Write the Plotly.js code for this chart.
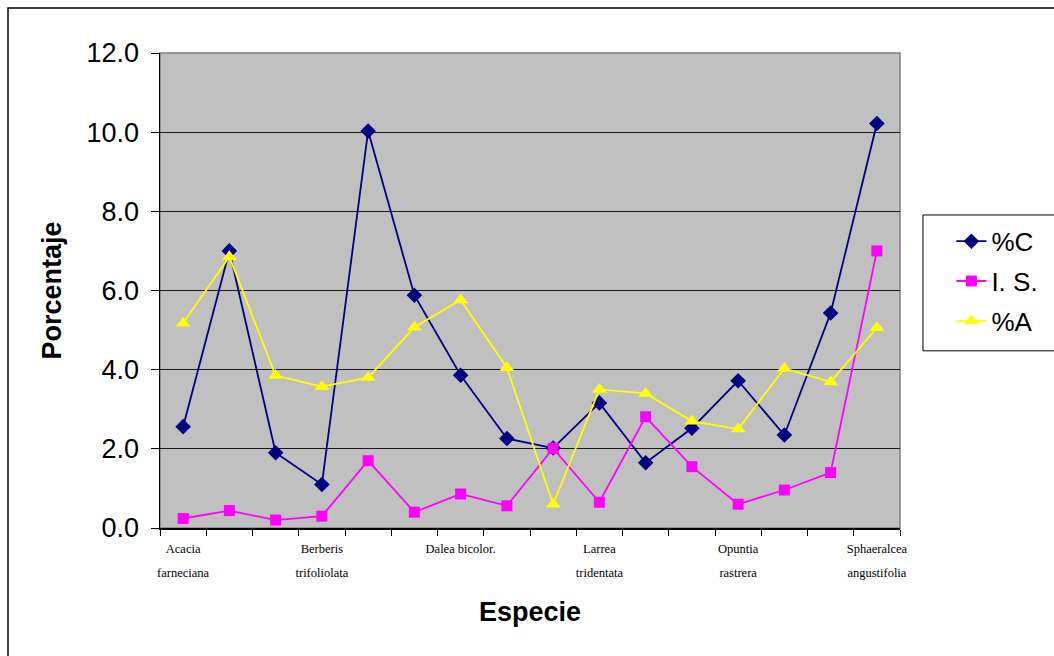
<!DOCTYPE html>
<html>
<head>
<meta charset="utf-8">
<script src="https://cdn.plot.ly/plotly-3.0.1.min.js"></script>
<style>
  html, body { margin: 0; padding: 0; background: #ffffff; }
  #chart { width: 1054px; height: 656px; }
</style>
</head>
<body>
<div id="chart"></div>
<script>
// Species labels shown on the axis (Excel shows every third category)
const speciesLine1 = ["Acacia", "Berberis", "Dalea bicolor.", "Larrea", "Opuntia", "Sphaeralcea"];
const speciesLine2 = ["farneciana", "trifoliolata", "", "tridentata", "rastrera", "angustifolia"];

// Series values (16 points each)
const pctC = [2.56, 7.00, 1.90, 1.10, 10.03, 5.88, 3.86, 2.26, 2.02, 3.16, 1.65, 2.52, 3.72, 2.35, 5.43, 10.22];
const indS = [0.24, 0.44, 0.20, 0.30, 1.70, 0.40, 0.86, 0.56, 2.01, 0.65, 2.81, 1.55, 0.60, 0.96, 1.40, 7.00];
const pctA = [5.17, 6.85, 3.85, 3.57, 3.80, 5.07, 5.76, 4.05, 0.60, 3.50, 3.40, 2.70, 2.50, 4.03, 3.69, 5.06];

const seriesNames = ["%C", "I. S.", "%A"];

const xIdx = pctC.map((_, i) => i);
const labelIdx = speciesLine1.map((_, k) => k * 3);

const traces = [
  {
    x: xIdx, y: pctC, name: seriesNames[0], type: 'scatter', mode: 'lines+markers',
    line: { color: '#000080', width: 1.8 },
    marker: { symbol: 'diamond', size: 12, color: '#000080' },
    legendgroup: 'a'
  },
  {
    x: xIdx, y: indS, name: seriesNames[1], type: 'scatter', mode: 'lines+markers',
    line: { color: '#FF00FF', width: 1.8 },
    marker: { symbol: 'square', size: 11, color: '#FF00FF' },
    legendgroup: 'b'
  },
  {
    x: xIdx, y: pctA, name: seriesNames[2], type: 'scatter', mode: 'lines+markers',
    line: { color: '#FFFF00', width: 1.8 },
    marker: { symbol: 'triangle-up', size: 13, color: '#FFFF00' },
    legendgroup: 'c'
  }
];

const xRange = [-0.5, xIdx.length - 0.5];

const layout = {
  width: 1054, height: 656,
  margin: { l: 160, r: 153, t: 53, b: 128 },
  paper_bgcolor: '#ffffff',
  plot_bgcolor: '#C0C0C0',
  font: { family: 'Liberation Sans, Arial, sans-serif', color: '#000' },
  showlegend: true,
  legend: {
    x: 1.068, y: 0.653, xanchor: 'left', yanchor: 'top',
    bgcolor: 'rgba(0,0,0,0)', borderwidth: 0,
    font: { size: 26, family: 'Liberation Sans, Arial, sans-serif' },
    tracegroupgap: 3
  },
  xaxis: {
    range: xRange, showgrid: false, zeroline: false,
    showline: true, linecolor: '#000', linewidth: 1.5,
    tickmode: 'array', tickvals: labelIdx, ticktext: speciesLine1,
    ticks: '', ticklabelstandoff: 8,
    tickfont: { family: 'Liberation Serif, Times New Roman, serif', size: 12.5 },
    minor: { ticks: 'outside', tickmode: 'linear', tick0: -0.5, dtick: 1, ticklen: 6, tickcolor: '#000', tickwidth: 1, showgrid: false }
  },
  xaxis2: {
    overlaying: 'x', side: 'bottom', anchor: 'y',
    range: xRange, showgrid: false, zeroline: false, showline: false,
    tickmode: 'array', tickvals: labelIdx, ticktext: speciesLine2,
    ticks: '', ticklabelstandoff: 35,
    tickfont: { family: 'Liberation Serif, Times New Roman, serif', size: 12.5 },
    title: { text: 'Especie', font: { size: 27, family: 'Liberation Sans, Arial, sans-serif', weight: 'bold' }, standoff: 23 }
  },
  yaxis: {
    range: [0, 12], dtick: 2, tick0: 0, tickformat: '.1f',
    showgrid: true, gridcolor: '#1a1a1a', gridwidth: 1,
    zeroline: false, showline: true, linecolor: '#000', linewidth: 1.5,
    ticks: 'outside', ticklen: 8, tickcolor: '#000', ticklabelstandoff: 6,
    tickfont: { size: 27, family: 'Liberation Sans, Arial, sans-serif' },
    title: { text: 'Porcentaje', font: { size: 27, family: 'Liberation Sans, Arial, sans-serif', weight: 'bold' }, standoff: 17 }
  },
  shapes: [
    // outer chart border
    { type: 'rect', xref: 'paper', yref: 'paper', x0: -0.2054, x1: 1.22, y0: -0.28, y1: 1.0947,
      line: { color: '#000', width: 1.5 }, fillcolor: 'rgba(0,0,0,0)', layer: 'below' },
    // plot area border (top/right gray)
    { type: 'rect', xref: 'paper', yref: 'paper', x0: 0, x1: 1, y0: 0, y1: 1,
      line: { color: '#808080', width: 1.5 }, fillcolor: 'rgba(0,0,0,0)', layer: 'below' },
    // legend box
    { type: 'rect', xref: 'paper', yref: 'paper', x0: 1.031, x1: 1.22, y0: 0.373, y1: 0.659,
      line: { color: '#000', width: 1 }, fillcolor: '#ffffff', layer: 'below' }
  ]
};

traces.push({ x: [xRange[0]], y: [null], xaxis: 'x2', showlegend: false, hoverinfo: 'skip', type: 'scatter', mode: 'markers' });

Plotly.newPlot('chart', traces, layout, { displayModeBar: false, staticPlot: true });
</script>
</body>
</html>
